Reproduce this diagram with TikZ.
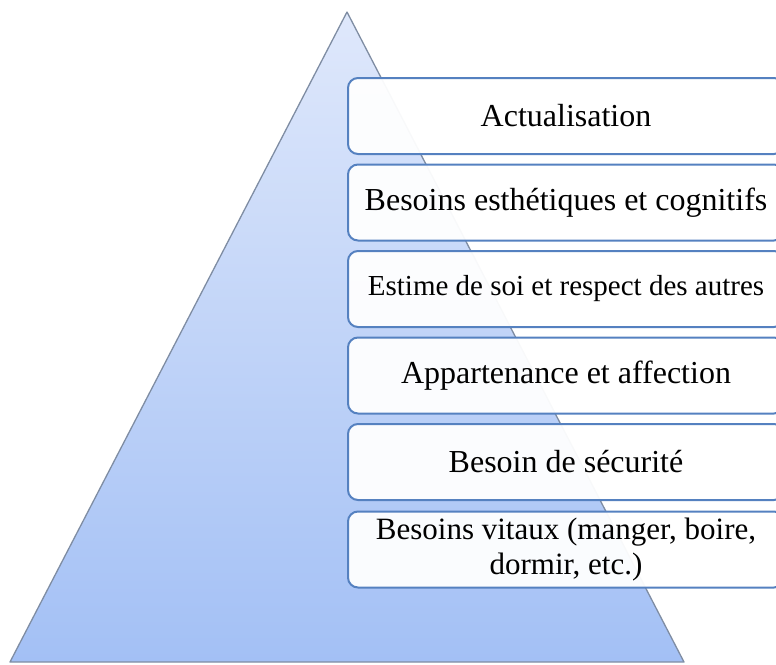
\documentclass[tikz,border=0pt]{standalone}
\usepackage{fontspec}
\setmainfont{Liberation Serif}
\begin{document}
\begin{tikzpicture}[x=1pt,y=-1pt,
  level/.style={draw=levelblue, line width=2pt, rounded corners=10pt,
    fill=white, fill opacity=0.95, text opacity=1,
    minimum width=436pt, minimum height=76pt, inner sep=0pt,
    align=center, text=black},
  big/.style={font=\fontsize{32}{36}\selectfont},
  mid/.style={font=\fontsize{29}{33}\selectfont},
  low/.style={font=\fontsize{31}{35}\selectfont}]
\definecolor{levelblue}{HTML}{5581C0}
\definecolor{pyrtop}{HTML}{DFE8FB}
\definecolor{pyrbot}{HTML}{A3C0F5}
\definecolor{pyredge}{HTML}{7F8DA3}
\useasboundingbox (0,0) rectangle (776,664);
% pyramid with vertical gradient
\coordinate (apex) at (347,12);
\coordinate (bl) at (10,662);
\coordinate (br) at (684,662);
\shade[top color=pyrtop, bottom color=pyrbot] (apex) -- (bl) -- (br) -- cycle;
\draw[pyredge, line width=1.3pt, line join=round] (apex) -- (bl) -- (br) -- cycle;
% need levels, top to bottom
\node[level, big] (b1) at (566,116)   {Actualisation};
\node[level, big] (b2) at (566,202.5) {Besoins esthétiques et cognitifs};
\node[level, mid] (b3) at (566,289)   {Estime de soi et respect des autres};
\node[level, big] (b4) at (566,375.5) {Appartenance et affection};
\node[level, big] (b5) at (566,462)   {Besoin de sécurité};
\node[level, low] (b6) at (566,549.5) {Besoins vitaux (manger, boire,\\dormir, etc.)};
\end{tikzpicture}
\end{document}
